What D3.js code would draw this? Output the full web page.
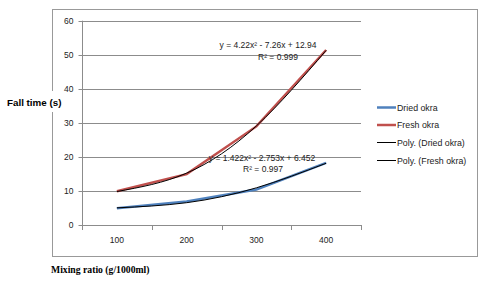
<!DOCTYPE html>
<html><head><meta charset="utf-8">
<script src="https://cdn.jsdelivr.net/npm/d3@7"></script>
<style>body{margin:0;background:#fff}svg{display:block}</style>
</head><body><svg id="c" width="500" height="282"></svg>
<script>
const categories = ["100", "200", "300", "400"];
const driedOkra = [5, 7, 10.5, 18.3];
const freshOkra = [10, 15, 29, 51.4];
const polyDried = [5.12, 6.63, 10.99, 18.19];
const polyFresh = [9.9, 15.3, 29.14, 51.3];
const yTicks = [0, 10, 20, 30, 40, 50, 60];
const seriesNames = ["Dried okra", "Fresh okra", "Poly. (Dried okra)", "Poly. (Fresh okra)"];
const seriesColors = ["#4f81bd", "#c0504d", "#000", "#000"];
const eqFresh = ["y = 4.22x² - 7.26x + 12.94", "R² = 0.999"];
const eqDried = ["y = 1.422x² - 2.753x + 6.452", "R² = 0.997"];

const svg = d3.select("#c");
const font = "'Liberation Sans', Arial, sans-serif";
// chart frame
svg.append("rect").attr("x", 52.5).attr("y", 9.5).attr("width", 425).attr("height", 247)
  .attr("fill", "#fff").attr("stroke", "#999").attr("stroke-width", 1);

const x = d3.scaleBand().domain(categories).range([82, 361]);
const y = d3.scaleLinear().domain([0, 60]).range([225.3, 20.7]);

// gridlines
svg.append("g").selectAll("line").data(yTicks.slice(1)).join("line")
  .attr("x1", 82).attr("x2", 361)
  .attr("y1", d => Math.round(y(d)) + 0.5).attr("y2", d => Math.round(y(d)) + 0.5)
  .attr("stroke", "#8c8c8c").attr("stroke-width", 1);

// y axis
const ya = svg.append("g").attr("transform", "translate(82.5,0)")
  .call(d3.axisLeft(y).tickValues(yTicks).tickSize(4).tickPadding(5).tickFormat(d3.format("d")));
ya.select(".domain").attr("stroke", "#8c8c8c").attr("d", `M0,${y(60)}V${y(0)}`);
ya.selectAll(".tick line").attr("stroke", "#8c8c8c");
ya.selectAll(".tick").attr("transform", d => `translate(0,${Math.round(y(d)) + 0.5})`);
ya.selectAll("text").attr("font-family", font).attr("font-size", 8.5).attr("fill", "#222");

// x axis
const xa = svg.append("g").attr("transform", `translate(0,${Math.round(y(0)) + 0.5})`)
  .call(d3.axisBottom(x).tickSize(0).tickPadding(11));
xa.select(".domain").remove();
xa.selectAll("text").attr("font-family", font).attr("font-size", 8.5).attr("fill", "#222");
svg.append("line").attr("x1", 82).attr("x2", 361)
  .attr("y1", Math.round(y(0)) + 0.5).attr("y2", Math.round(y(0)) + 0.5).attr("stroke", "#8c8c8c");
const bounds = categories.map(c => x(c)).concat([x.range()[1]]);
svg.append("g").selectAll("line").data(bounds).join("line")
  .attr("x1", d => Math.round(d) + 0.5).attr("x2", d => Math.round(d) + 0.5)
  .attr("y1", Math.round(y(0))).attr("y2", Math.round(y(0)) + 5).attr("stroke", "#8c8c8c");

const cx = c => x(c) + x.bandwidth() / 2;
const lineStraight = d3.line().x((d, i) => cx(categories[i])).y(d => y(d));
const lineCurve = d3.line().x((d, i) => cx(categories[i])).y(d => y(d)).curve(d3.curveNatural);

const g = svg.append("g");
g.append("path").attr("d", lineStraight(driedOkra)).attr("fill", "none")
  .attr("stroke", seriesColors[0]).attr("stroke-width", 2.5);
g.append("path").attr("d", lineStraight(freshOkra)).attr("fill", "none")
  .attr("stroke", seriesColors[1]).attr("stroke-width", 2.5);
g.append("path").attr("d", lineCurve(polyDried)).attr("fill", "none")
  .attr("stroke", seriesColors[2]).attr("stroke-width", 1);
g.append("path").attr("d", lineCurve(polyFresh)).attr("fill", "none")
  .attr("stroke", seriesColors[3]).attr("stroke-width", 1);

// equations
const eq = svg.append("g").attr("font-family", font).attr("font-size", 8.5).attr("fill", "#222");
eq.append("text").attr("x", 268).attr("y", 48).attr("text-anchor", "middle").text(eqFresh[0]);
eq.append("text").attr("x", 278).attr("y", 60).attr("text-anchor", "middle").text(eqFresh[1]);
eq.append("text").attr("x", 262).attr("y", 161).attr("text-anchor", "middle").text(eqDried[0]);
eq.append("text").attr("x", 263).attr("y", 172).attr("text-anchor", "middle").text(eqDried[1]);

// legend
const leg = svg.append("g");
const ly = [107.5, 125, 142.5, 160.5];
seriesNames.forEach((n, i) => {
  leg.append("line").attr("x1", 377).attr("x2", 396).attr("y1", ly[i]).attr("y2", ly[i])
    .attr("stroke", seriesColors[i]).attr("stroke-width", i < 2 ? 2.5 : 1);
  leg.append("text").attr("x", 397).attr("y", ly[i] + 3).attr("font-family", font)
    .attr("font-size", 8.8).attr("fill", "#222").text(n);
});

// axis titles
svg.append("rect").attr("x", 40).attr("y", 91).attr("width", 25).attr("height", 21).attr("fill", "#fff");
svg.append("text").attr("x", 7).attr("y", 105.5).attr("font-family", font).attr("font-weight", "bold")
  .attr("font-size", 9.8).attr("fill", "#000").text("Fall time (s)");
svg.append("text").attr("x", 51).attr("y", 272.5).attr("font-family", "'Liberation Serif', 'Times New Roman', serif")
  .attr("font-weight", "bold").attr("font-size", 9.7).attr("fill", "#000").text("Mixing ratio (g/1000ml)");
</script></body></html>
